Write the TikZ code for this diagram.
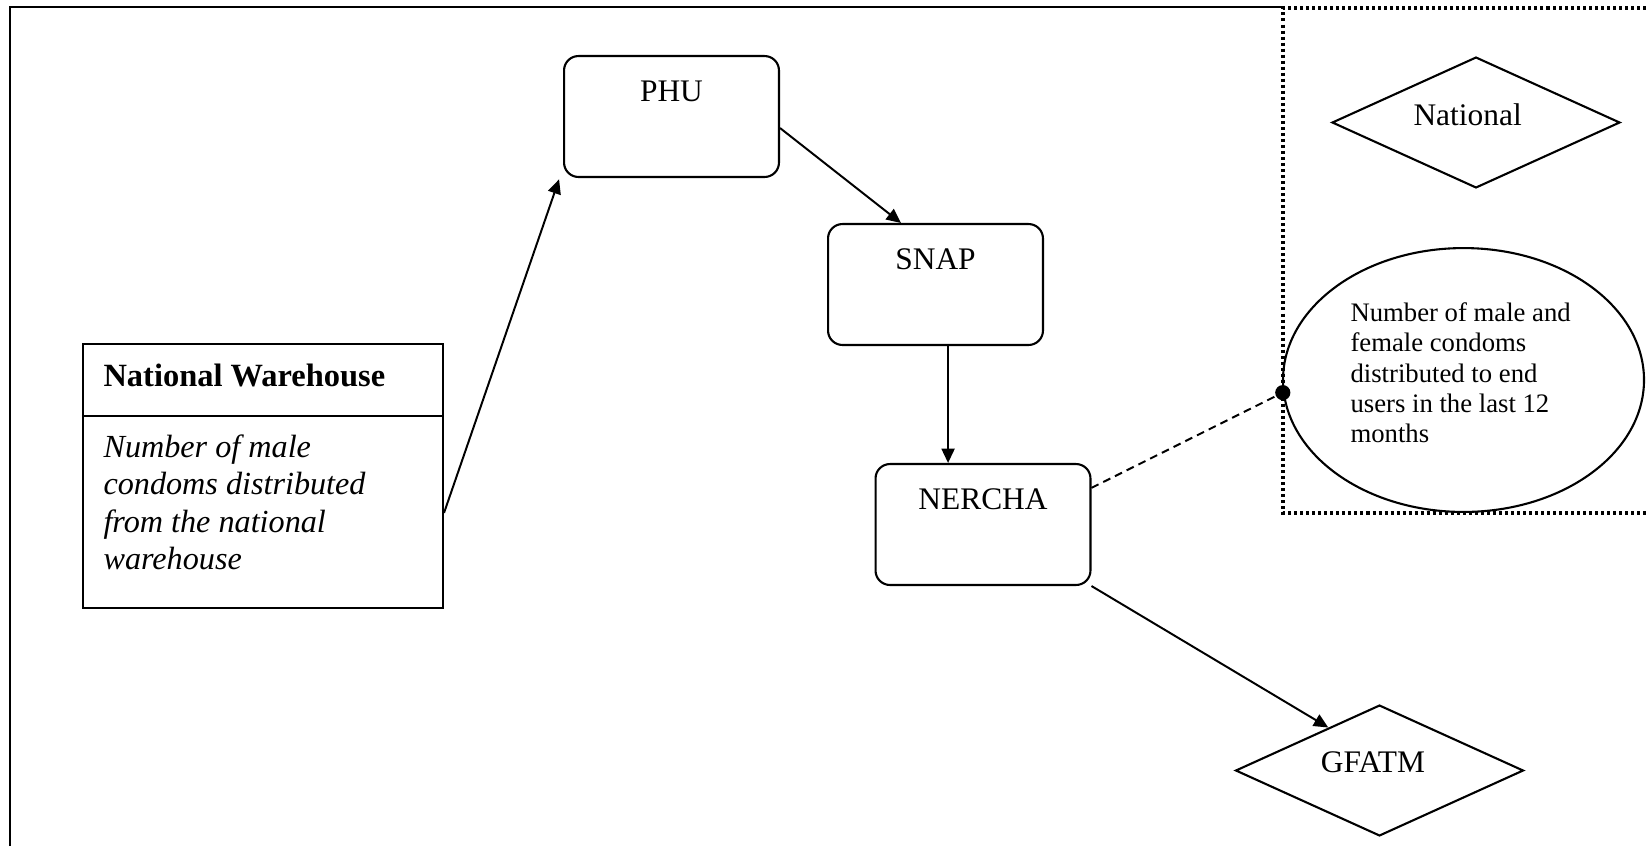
\documentclass[tikz,border=0pt]{standalone}
\usepackage{fontspec}
\setmainfont{Liberation Serif}
\usetikzlibrary{shapes.geometric,arrows.meta,calc}
\tikzset{
  rbox/.style={draw, line width=0.8pt, rounded corners=5.5pt, minimum width=82.1pt, minimum height=46.2pt, inner sep=0pt},
  dia/.style={draw, line width=0.8pt, diamond, minimum width=110pt, minimum height=50pt, inner sep=0pt},
  conn/.style={line width=0.75pt, -{Triangle[length=5.5pt,width=5pt]}},
  lbl/.style={font=\fontsize{12}{14.4}\selectfont, inner sep=0pt},
  dotbox/.style={line width=1.2pt, dash pattern=on 1.15pt off 1.15pt},
}
\begin{document}
\begin{tikzpicture}[x=0.382pt,y=-0.382pt]
\useasboundingbox (0,0) rectangle (1649,846);
% outer frame
\draw[line width=1pt] (10,846) -- (10,7) -- (1283,7);
\draw[dotbox] (1700,8) -- (1283,8) -- (1283,513) -- (1700,513);
% National Warehouse box
\node[draw, line width=0.8pt, minimum width=137.5pt, minimum height=100.8pt, inner sep=0pt] (nw) at (263,476) {};
\draw[line width=0.8pt] ([yshift=-27.9pt]nw.north west) -- ([yshift=-27.9pt]nw.north east);
\node[lbl, anchor=base west, font=\fontsize{12.4}{14.4}\selectfont\bfseries] (nwtitle) at (103,386) {National Warehouse};
\node[lbl, anchor=north west, align=left, font=\fontsize{12.3}{14.3}\selectfont\itshape] (nwtext) at (103,434) {Number of male\\condoms distributed\\from the national\\warehouse};
% rounded boxes
\node[rbox, label={[lbl, anchor=center, yshift=-13.75pt]north:PHU}] (phu) at (671.5,116.5) {};
\node[rbox, label={[lbl, anchor=center, yshift=-13.75pt]north:SNAP}] (snap) at (935.5,284.5) {};
\node[rbox, label={[lbl, anchor=center, yshift=-13.75pt]north:NERCHA}] (nercha) at (983,524.5) {};
% diamonds
\node[dia, label={[lbl, xshift=-3.2pt, yshift=3.1pt]center:National}] (national) at (1476,122.5) {};
\node[dia, label={[lbl, xshift=-2.5pt, yshift=3pt]center:GFATM}] (gfatm) at (1379.5,770.5) {};
% ellipse
\node[draw, line width=0.8pt, ellipse, minimum width=137.9pt, minimum height=100.8pt, inner sep=0pt] (ell) at (1463.5,380) {};
\node[anchor=north west, align=left, inner sep=0pt, font=\fontsize{10.2}{11.6}\selectfont] (elltext) at (1350,302) {Number of male and\\female condoms\\distributed to end\\users in the last 12\\months};
\node[circle, fill, inner sep=0pt, minimum size=5.8pt] (dot) at (ell.184) {};
% connectors
\draw[conn] ([yshift=-14.1pt]nw.east) -- ([xshift=-1.5pt,yshift=-0.5pt]phu.south west);
\draw[conn] ([yshift=-4.4pt]phu.east) -- ([xshift=-13.2pt]snap.north);
\draw[conn] ([xshift=4.8pt]snap.south) -- ([xshift=4.8pt]snap.south |- nercha.north);
\draw[conn] (nercha.south east) -- (gfatm.140);
\draw[line width=0.75pt, dash pattern=on 3pt off 2pt] ([yshift=14pt]nercha.east) -- (dot.center);
\end{tikzpicture}
\end{document}
